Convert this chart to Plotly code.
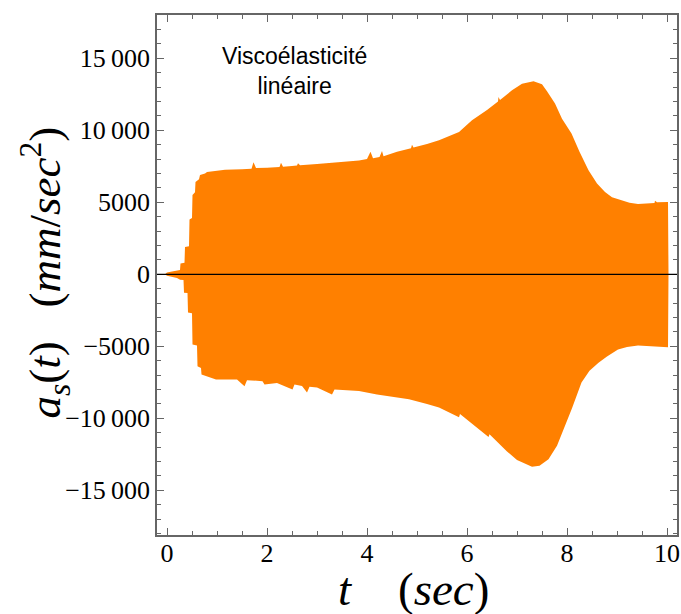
import plotly.graph_objects as go

# Upper envelope of the acceleration signal (t in sec, a in mm/sec^2)
t_upper = [-0.04, 0.0, 0.1, 0.2, 0.26, 0.27, 0.35, 0.36, 0.44, 0.45, 0.50, 0.51, 0.56, 0.57,
           0.64, 0.66, 0.76, 0.8, 1.0, 1.16, 1.5, 1.69, 1.73, 1.78, 2.0, 2.25, 2.28, 2.32, 2.5,
           2.6, 2.62, 2.66, 3.0, 3.5, 3.84, 4.0, 4.07, 4.12, 4.25, 4.3, 4.33, 4.6, 4.88, 4.9,
           4.93, 5.2, 5.44, 5.84, 6.1, 6.4, 6.62, 6.63, 6.66, 6.9, 7.1, 7.33, 7.5, 7.6, 7.76,
           7.9, 8.09, 8.25, 8.43, 8.6, 8.76, 8.9, 9.09, 9.25, 9.42, 9.6, 9.75, 9.76, 9.8, 10.02, 10.03]
a_upper = [0, 120, 200, 250, 300, 750, 800, 1900, 1950, 3800, 3900, 5500, 5700, 6400,
           6600, 6900, 7000, 7100, 7200, 7260, 7300, 7330, 7770, 7370, 7400, 7450, 7750, 7470, 7520,
           7560, 7700, 7570, 7650, 7780, 7900, 8000, 8500, 8050, 8150, 8550, 8200, 8500, 8750, 9000,
           8800, 9050, 9300, 9880, 10690, 11400, 12000, 12300, 12100, 12770, 13230, 13400, 13200, 12700, 11850,
           10800, 9780, 8500, 7220, 6300, 5710, 5350, 5130, 4960, 4880, 4900, 4950, 5100, 5000, 5020, 0]

# Lower envelope
t_lower = [-0.04, 0.0, 0.2, 0.26, 0.33, 0.34, 0.41, 0.42, 0.5, 0.51, 0.6, 0.61, 0.68, 0.69,
           0.8, 0.82, 0.98, 1.4, 1.55, 1.6, 1.91, 1.95, 2.2, 2.51, 2.55, 2.7, 2.8, 2.85, 3.0,
           3.3, 3.35, 3.84, 4.2, 4.84, 5.2, 5.44, 5.84, 5.86, 6.1, 6.43, 6.45, 6.8, 7.0, 7.3,
           7.45, 7.63, 7.8, 7.96, 8.1, 8.29, 8.45, 8.63, 8.8, 9.02, 9.2, 9.42, 9.7, 10.02, 10.03]
a_lower = [0, -100, -250, -380, -400, -1280, -1300, -2660, -2700, -4880, -4950, -6380, -6500, -6960,
           -7050, -7100, -7300, -7300, -7770, -7350, -7420, -7650, -7550, -8000, -7660, -7750, -8200, -7800, -7860,
           -8340, -8000, -8110, -8350, -8680, -9000, -9240, -9930, -9700, -10350, -11300, -11100, -12300, -12900, -13370,
           -13300, -12840, -11900, -10530, -9300, -7520, -6700, -6140, -5700, -5220, -5050, -4950, -4980, -5070, 0]

y_tickvals = [-15000, -10000, -5000, 0, 5000, 10000, 15000]
y_ticktext = ["\u221215\u2009000", "\u221210\u2009000", "\u22125000", "0", "5000", "10\u2009000", "15\u2009000"]
x_tickvals = [0, 2, 4, 6, 8, 10]
x_ticktext = ["0", "2", "4", "6", "8", "10"]

orange = "#FF8000"

fig = go.Figure()
fig.add_trace(go.Scatter(x=t_upper + t_lower[::-1], y=a_upper + a_lower[::-1],
                         mode="lines", line=dict(width=0, color=orange),
                         fill="toself", fillcolor=orange, hoverinfo="skip", showlegend=False))

fig.add_shape(type="line", xref="paper", x0=0, x1=1, yref="y", y0=0, y1=0,
              line=dict(color="black", width=1.2), layer="above")

serif = "Liberation Serif, Times New Roman, serif"
axis_common = dict(showline=True, linecolor="#666666", linewidth=1.5, mirror="allticks",
                   ticks="inside", tickcolor="#666666", ticklen=7, tickwidth=1,
                   showgrid=False, zeroline=False,
                   tickfont=dict(family=serif, size=26, color="black"))

fig.update_xaxes(range=[-0.2, 10.2], tickvals=x_tickvals, ticktext=x_ticktext, ticklabelstandoff=-6,
                 minor=dict(ticks="inside", dtick=0.5, tick0=0, ticklen=4, tickcolor="#666666", showgrid=False),
                 **axis_common)
fig.update_yaxes(range=[-18100, 18000], tickvals=y_tickvals, ticktext=y_ticktext,
                 minor=dict(ticks="inside", dtick=1000, tick0=0, ticklen=4, tickcolor="#666666", showgrid=False),
                 **axis_common)

fig.add_annotation(text="<i>t</i>" + "&nbsp;" * 4 + "(<i>sec</i>)", xref="paper", yref="paper",
                   x=(414 - 157) / 522, y=-(589 - 535) / 520, yanchor="middle", showarrow=False,
                   font=dict(family=serif, size=47, color="black"))
fig.add_annotation(text="<i>a</i><sub><i>s</i></sub>(<i>t</i>)" + "&nbsp;" * 3 + "(<i>mm</i>/<i>sec</i><sup>2</sup>)",
                   xref="paper", yref="paper", x=-(157 - 44) / 522, y=1 - (272 - 15) / 520, textangle=-90,
                   xanchor="center", yanchor="middle", showarrow=False,
                   font=dict(family=serif, size=45, color="black"))
fig.add_annotation(text="Viscoélasticité<br>linéaire", xref="paper", yref="paper",
                   x=(295 - 157) / 522, y=1 - (71 - 15) / 520, showarrow=False,
                   xanchor="center", yanchor="middle",
                   font=dict(family="Liberation Sans, Arial, sans-serif", size=23, color="black"))

fig.update_layout(width=681, height=614, margin=dict(l=157, r=2, t=15, b=79),
                  paper_bgcolor="white", plot_bgcolor="white")

fig.write_html("out.html", config={"displayModeBar": False},
               post_script="document.body.style.margin='0';document.body.style.overflow='hidden';")
